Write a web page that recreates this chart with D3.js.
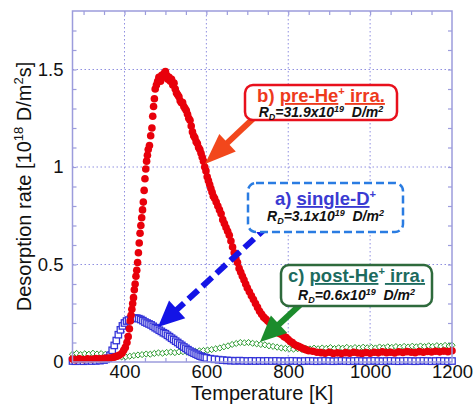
<!DOCTYPE html>
<html>
<head>
<meta charset="utf-8">
<script src="https://cdn.jsdelivr.net/npm/d3@7"></script>
<style>
  html, body { margin: 0; padding: 0; background: #fff; }
  svg { display: block; font-family: Arial, "Liberation Sans", sans-serif; }
</style>
</head>
<body>
<svg id="chart" width="474" height="406"></svg>
<script>
// ---- data (T in K, rate in 10^18 D/m2s) ----

// b) pre-He+ irradiation (red dots)
var tempPre = [273,280,290,300,310,320,330,340,350,360,368,375,382,388,394,398,402,406,409,412,
  414,416,418,420,422,424,426,428,430,432,434,436,438,440,442,444,446,448,450,452,
  454,456,458,461,464,467,469,471,473,475,478,481,484,488,491,494,497,500,503,506,
  509,512,515,518,521,524,527,530,533,536,539,542,545,548,551,554,557,560,563,566,
  569,572,575,578,581,584,587,590,593,596,599,602,605,608,611,614,617,620,624,628,
  632,636,640,644,648,652,656,660,664,668,672,676,680,684,688,692,696,700,705,710,
  715,720,725,730,735,740,745,750,755,760,765,770,775,780,785,790,795,800,805,810,
  815,820,825,830,835,840,845,850,860,870,880,890,900,910,920,930,940,950,960,970,
  980,990,1000,1010,1020,1030,1040,1050,1060,1070,1080,1090,1100,1110,1120,1130,1140,1150,1160,1170,
  1180,1190,1200];
var ratePre = [0.015,0.012,0.016,0.013,0.017,0.014,0.018,0.016,0.019,0.02,0.022,0.025,0.03,0.036,0.045,0.06,0.075,0.1,0.13,0.17,
  0.21,0.24,0.27,0.30,0.33,0.37,0.40,0.44,0.47,0.51,0.56,0.61,0.66,0.70,0.74,0.78,0.82,0.88,0.94,0.99,
  1.03,1.06,1.09,1.11,1.16,1.20,1.26,1.31,1.35,1.40,1.42,1.44,1.46,1.44,1.47,1.46,1.48,1.49,1.47,1.45,
  1.46,1.44,1.45,1.42,1.43,1.40,1.38,1.37,1.36,1.34,1.33,1.33,1.31,1.30,1.29,1.27,1.25,1.24,1.21,1.18,
  1.16,1.15,1.13,1.12,1.10,1.09,1.07,1.05,1.03,1.00,0.98,0.95,0.93,0.91,0.89,0.87,0.85,0.84,0.82,0.80,
  0.78,0.76,0.73,0.71,0.69,0.67,0.65,0.62,0.59,0.56,0.53,0.51,0.48,0.46,0.44,0.42,0.40,0.38,0.36,0.34,
  0.32,0.30,0.28,0.26,0.245,0.23,0.22,0.21,0.20,0.185,0.17,0.16,0.15,0.145,0.14,0.13,0.125,0.115,0.105,0.10,
  0.09,0.085,0.08,0.075,0.07,0.065,0.062,0.058,0.055,0.05,0.048,0.045,0.05,0.044,0.047,0.043,0.048,0.045,0.05,0.046,
  0.044,0.049,0.045,0.05,0.047,0.052,0.048,0.05,0.046,0.052,0.049,0.053,0.05,0.048,0.053,0.05,0.054,0.051,0.055,0.052,
  0.056,0.053,0.058];

// a) single-D+ (blue open squares)
var tempSingle = [273,280,290,300,310,320,330,340,350,355,360,365,370,375,380,385,390,395,400,405,
  410,415,420,425,430,435,440,445,450,455,460,465,470,475,480,485,490,495,500,505,
  510,515,520,525,530,535,540,545,550,555,560,565,570,575,580,585,590,595,600,610,
  620,630,640,650,660,670,680,690,700,710,720,730,740,750,760,770,780,790,800,810,
  820,830,840,850,860,870,880,890,900,910,920,930,940,950,960,970,980,990,1000,1010,
  1020,1030,1040,1050,1060,1070,1080,1090,1100,1110,1120,1130,1140,1150,1160,1170,1180,1190,1200];
var rateSingle = [0.005,0.004,0.005,0.004,0.006,0.005,0.006,0.007,0.01,0.014,0.02,0.035,0.06,0.085,0.11,0.14,0.165,0.185,0.20,0.21,
  0.215,0.22,0.225,0.225,0.225,0.222,0.218,0.212,0.205,0.20,0.195,0.19,0.183,0.176,0.17,0.163,0.157,0.15,0.145,0.137,
  0.13,0.122,0.115,0.107,0.10,0.092,0.085,0.077,0.07,0.063,0.056,0.05,0.045,0.04,0.035,0.03,0.027,0.024,0.021,0.017,
  0.014,0.012,0.01,0.008,0.007,0.006,0.007,0.006,0.005,0.006,0.005,0.006,0.005,0.006,0.005,0.006,0.005,0.004,0.005,0.006,
  0.005,0.004,0.005,0.006,0.005,0.004,0.005,0.006,0.005,0.004,0.005,0.006,0.005,0.004,0.005,0.006,0.005,0.004,0.005,0.006,
  0.005,0.004,0.005,0.006,0.005,0.004,0.005,0.006,0.005,0.004,0.005,0.006,0.005,0.004,0.005,0.006,0.005,0.004,0.005];

// c) post-He+ irradiation (green open diamonds)
var tempPost = [273,283,293,303,313,323,333,343,353,363,373,383,393,403,413,423,433,443,453,463,
  473,483,493,503,513,523,533,543,553,563,573,583,593,603,613,623,633,643,653,663,
  673,683,693,703,713,723,733,743,753,763,773,783,793,803,813,823,833,843,853,863,
  873,883,893,903,913,923,933,943,953,963,973,983,993,1003,1013,1023,1033,1043,1053,1063,
  1073,1083,1093,1103,1113,1123,1133,1143,1153,1163,1173,1183,1193,1200];
var ratePost = [0.04,0.044,0.038,0.042,0.04,0.045,0.041,0.043,0.039,0.04,0.036,0.03,0.026,0.027,0.03,0.033,0.036,0.038,0.041,0.04,
  0.044,0.047,0.045,0.049,0.051,0.048,0.052,0.053,0.05,0.054,0.055,0.057,0.059,0.061,0.064,0.068,0.072,0.078,0.083,0.09,
  0.095,0.1,0.098,0.1,0.096,0.093,0.09,0.088,0.083,0.08,0.076,0.072,0.07,0.068,0.066,0.068,0.065,0.07,0.067,0.071,
  0.068,0.072,0.07,0.074,0.069,0.073,0.071,0.075,0.07,0.074,0.072,0.076,0.073,0.075,0.072,0.077,0.074,0.078,0.075,0.079,
  0.076,0.08,0.077,0.081,0.078,0.082,0.079,0.083,0.08,0.084,0.081,0.085,0.082,0.086];

var xTicks = [400, 600, 800, 1000, 1200];
var yTicks = [0, 0.5, 1, 1.5];

// ---- layout ----
var svg = d3.select("#chart");
var plotL = 72.5, plotR = 452, plotT = 11, plotB = 362;
var frameColour = "#9c9cdc";

var x = d3.scaleLinear().domain([273, 1200]).range([plotL, plotR]);
var y = d3.scaleLinear().domain([0, 1.8]).range([plotB, plotT]);

// dotted grid
svg.append("g").selectAll("line").data([400, 600, 800, 1000]).enter().append("line")
    .attr("x1", function (d) { return x(d); }).attr("x2", function (d) { return x(d); })
    .attr("y1", plotT).attr("y2", plotB)
    .attr("stroke", "#8f8fe0").attr("stroke-width", 1).attr("stroke-dasharray", "1.5,2.5");
svg.append("g").selectAll("line").data([0.5, 1, 1.5]).enter().append("line")
    .attr("x1", plotL).attr("x2", plotR)
    .attr("y1", function (d) { return y(d); }).attr("y2", function (d) { return y(d); })
    .attr("stroke", "#8f8fe0").attr("stroke-width", 1).attr("stroke-dasharray", "1.5,2.5");

// inward ticks on all four sides
var xMinor = d3.range(300, 1200, 50);
var yMinor = d3.range(1, 18).map(function (i) { return i / 10; });
function tickStyle(g) {
    g.select(".domain").remove();
    g.selectAll("line").attr("stroke", frameColour).attr("stroke-width", 1.2);
}
svg.append("g").attr("transform", "translate(0," + plotB + ")")
    .call(d3.axisBottom(x).tickValues(xMinor).tickSize(-4).tickFormat("")).call(tickStyle);
svg.append("g").attr("transform", "translate(0," + plotT + ")")
    .call(d3.axisTop(x).tickValues(xMinor).tickSize(-4).tickFormat("")).call(tickStyle);
svg.append("g").attr("transform", "translate(" + plotL + ",0)")
    .call(d3.axisLeft(y).tickValues(yMinor).tickSize(-4).tickFormat("")).call(tickStyle);
svg.append("g").attr("transform", "translate(" + plotR + ",0)")
    .call(d3.axisRight(y).tickValues(yMinor).tickSize(-4).tickFormat("")).call(tickStyle);

// tick labels
var xAxis = svg.append("g").attr("transform", "translate(0," + plotB + ")")
    .call(d3.axisBottom(x).tickValues(xTicks).tickSize(0).tickPadding(3).tickFormat(d3.format("d")));
xAxis.select(".domain").remove();
xAxis.selectAll("text").attr("font-size", 18.5).attr("font-family", "Arial, 'Liberation Sans'").attr("fill", "#111");

var yAxis = svg.append("g").attr("transform", "translate(" + plotL + ",0)")
    .call(d3.axisLeft(y).tickValues(yTicks).tickSize(0).tickPadding(9)
        .tickFormat(function (d) { return d === 0 ? "0" : String(d); }));
yAxis.select(".domain").remove();
yAxis.selectAll("text").attr("font-size", 18.5).attr("font-family", "Arial, 'Liberation Sans'").attr("fill", "#111");

// axis titles
svg.append("text")
    .attr("x", (plotL + plotR) / 2).attr("y", 400)
    .attr("text-anchor", "middle").attr("font-size", 20).attr("fill", "#111")
    .text("Temperature [K]");

var yTitle = svg.append("text")
    .attr("transform", "translate(31," + ((plotT + plotB) / 2) + ") rotate(-90)")
    .attr("text-anchor", "middle").attr("font-size", 20).attr("fill", "#111");
yTitle.append("tspan").text("Desorption rate [10");
yTitle.append("tspan").attr("dy", -8).attr("font-size", 13).text("18");
yTitle.append("tspan").attr("dy", 8).text(" D/m");
yTitle.append("tspan").attr("dy", -8).attr("font-size", 13).text("2");
yTitle.append("tspan").attr("dy", 8).text("s]");

// ---- series ----
var plot = svg.append("g");

var post = d3.zip(tempPost, ratePost);
plot.append("g").selectAll("path").data(post).enter().append("path")
    .attr("d", d3.symbol().type(d3.symbolDiamond2).size(24))
    .attr("transform", function (d) { return "translate(" + x(d[0]) + "," + y(d[1]) + ")"; })
    .attr("fill", "#fff").attr("stroke", "#2a9a2e").attr("stroke-width", 1);

var single = d3.zip(tempSingle, rateSingle);
plot.append("g").selectAll("rect").data(single).enter().append("rect")
    .attr("x", function (d) { return x(d[0]) - 3.2; })
    .attr("y", function (d) { return y(d[1]) - 3.2; })
    .attr("width", 6.4).attr("height", 6.4)
    .attr("fill", "#fff").attr("stroke", "#3434d8").attr("stroke-width", 1.3);

var pre = d3.zip(tempPre, ratePre);
plot.append("g").selectAll("circle").data(pre).enter().append("circle")
    .attr("cx", function (d) { return x(d[0]); })
    .attr("cy", function (d) { return y(d[1]); })
    .attr("r", 3.8)
    .attr("fill", "#e8000b");

// frame
svg.append("rect")
    .attr("x", plotL).attr("y", plotT).attr("width", plotR - plotL).attr("height", plotB - plotT)
    .attr("fill", "none").attr("stroke", frameColour).attr("stroke-width", 1.5);

// ---- annotations ----
function arrowHead(tip, from, len, wid) {
    var dx = tip[0] - from[0], dy = tip[1] - from[1];
    var l = Math.sqrt(dx * dx + dy * dy), ux = dx / l, uy = dy / l;
    var bx = tip[0] - ux * len, by = tip[1] - uy * len;
    return [[tip[0], tip[1]], [bx - uy * wid / 2, by + ux * wid / 2], [bx + uy * wid / 2, by - ux * wid / 2]];
}
function baseOf(tip, from, len) {
    var dx = tip[0] - from[0], dy = tip[1] - from[1];
    var l = Math.sqrt(dx * dx + dy * dy);
    return [tip[0] - dx / l * len, tip[1] - dy / l * len];
}
var line = d3.line();

// arrow b (solid orange-red)
var bFrom = [258, 114], bTip = [205, 164];
svg.append("line")
    .attr("x1", bFrom[0]).attr("y1", bFrom[1])
    .attr("x2", baseOf(bTip, bFrom, 26)[0]).attr("y2", baseOf(bTip, bFrom, 26)[1])
    .attr("stroke", "#f2471c").attr("stroke-width", 6);
svg.append("path").attr("d", line(arrowHead(bTip, bFrom, 31, 24)) + "Z").attr("fill", "#f2471c");

// arrow a (dashed blue)
var aFrom = [268, 226], aTip = [158, 327];
svg.append("line")
    .attr("x1", aFrom[0]).attr("y1", aFrom[1])
    .attr("x2", baseOf(aTip, aFrom, 22)[0]).attr("y2", baseOf(aTip, aFrom, 22)[1])
    .attr("stroke", "#1414e6").attr("stroke-width", 6).attr("stroke-dasharray", "13,6");
svg.append("path").attr("d", line(arrowHead(aTip, aFrom, 26, 24)) + "Z").attr("fill", "#1414e6");

// arrow c (solid green)
var cFrom = [302, 303], cTip = [260, 342];
svg.append("line")
    .attr("x1", cFrom[0]).attr("y1", cFrom[1])
    .attr("x2", baseOf(cTip, cFrom, 22)[0]).attr("y2", baseOf(cTip, cFrom, 22)[1])
    .attr("stroke", "#1c8c2c").attr("stroke-width", 6);
svg.append("path").attr("d", line(arrowHead(cTip, cFrom, 26, 24)) + "Z").attr("fill", "#1c8c2c");

function labelBox(opt) {
    var g = svg.append("g");
    g.append("rect")
        .attr("x", opt.x0).attr("y", opt.y0)
        .attr("width", opt.x1 - opt.x0).attr("height", opt.y1 - opt.y0)
        .attr("rx", 8).attr("ry", 8)
        .attr("fill", "#fff").attr("stroke", opt.stroke).attr("stroke-width", 2.5)
        .attr("stroke-dasharray", opt.dash || null);
    var cx = (opt.x0 + opt.x1) / 2;
    var t1 = g.append("text").attr("x", cx).attr("y", opt.base1)
        .attr("text-anchor", "middle").attr("font-size", opt.size1).attr("font-weight", "bold")
        .attr("fill", opt.colour);
    t1.append("tspan").text(opt.tag + " ");
    opt.parts.forEach(function (p) {
        var s = t1.append("tspan");
        if (p.sup) s.attr("dy", -7).attr("font-size", opt.size1 * 0.6).text(p.sup);
        else s.style("text-decoration", "underline").attr("dy", p.after ? 7 : null).text(p.text);
    });
    var t2 = g.append("text").attr("x", cx).attr("y", opt.base2)
        .attr("text-anchor", "middle").attr("font-size", 14).attr("font-weight", "bold")
        .attr("font-style", "italic").attr("fill", "#111");
    t2.append("tspan").text("R");
    t2.append("tspan").attr("dy", 3).attr("font-size", 9).text("D");
    t2.append("tspan").attr("dy", -3).text("=" + opt.rd + "x10");
    t2.append("tspan").attr("dy", -5).attr("font-size", 9).text("19");
    t2.append("tspan").attr("dy", 5).text("\u00a0 D/m");
    t2.append("tspan").attr("dy", -5).attr("font-size", 9).text("2");
}

labelBox({ x0: 245, x1: 397, y0: 85, y1: 120, stroke: "#e8101c", colour: "#ee3a1c",
    tag: "b)", parts: [{ text: "pre-He" }, { sup: "+" }, { text: " irra.", after: true }],
    size1: 18.5, base1: 102, base2: 116.5, rd: "31.9" });

labelBox({ x0: 248, x1: 403, y0: 183, y1: 232, stroke: "#2a7ce2", colour: "#3a3ad2", dash: "8,4",
    tag: "a)", parts: [{ text: "single-D" }, { sup: "+" }],
    size1: 18.5, base1: 205, base2: 221, rd: "3.1" });

labelBox({ x0: 281, x1: 432, y0: 265, y1: 306, stroke: "#2e6a3c", colour: "#1d6b5e",
    tag: "c)", parts: [{ text: "post-He" }, { sup: "+" }, { text: " irra.", after: true }],
    size1: 18.5, base1: 282, base2: 299.5, rd: "0.6" });
</script>
</body>
</html>
